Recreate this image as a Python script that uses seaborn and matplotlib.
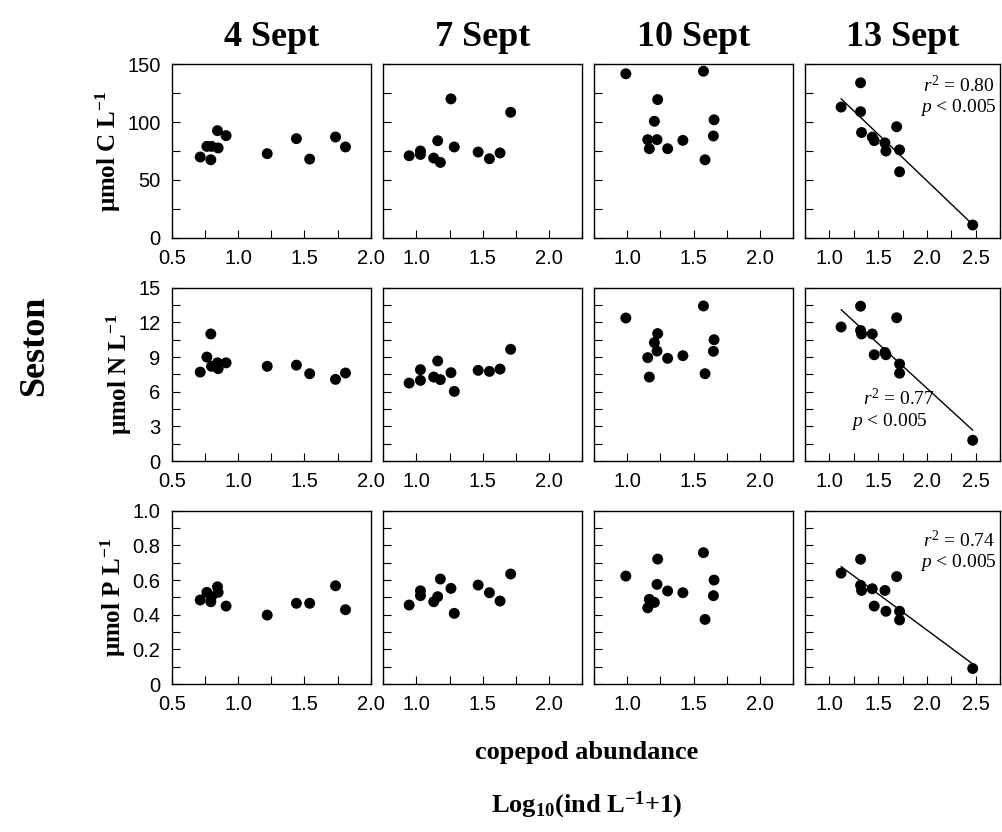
import numpy as np
import pandas as pd
import seaborn as sns
import matplotlib.pyplot as plt
from matplotlib.ticker import MultipleLocator, FuncFormatter

# copepod abundance, log10(ind/L + 1), one array per sampling date
dates = ['4 Sept', '7 Sept', '10 Sept', '13 Sept']
x_4sep = [0.715, 0.765, 0.795, 0.80, 0.845, 0.85, 0.91, 1.22, 1.44, 1.54, 1.735, 1.81]
x_7sep = [0.945, 1.03, 1.03, 1.13, 1.16, 1.18, 1.26, 1.285, 1.465, 1.55, 1.63, 1.71]
x_10sep = [0.99, 1.155, 1.167, 1.205, 1.225, 1.23, 1.305, 1.42, 1.575, 1.587, 1.65, 1.655]
x_13sep = [1.12, 1.32, 1.32, 1.33, 1.44, 1.46, 1.57, 1.58, 1.69, 1.72, 1.72, 2.47]

# seston carbon (umol C/L)
c_4sep = [69.8, 79.0, 67.4, 79.0, 92.6, 77.6, 88.3, 72.7, 85.7, 68.0, 87.1, 78.5]
c_7sep = [70.9, 72.0, 75.0, 68.9, 83.9, 65.1, 120.1, 78.5, 74.1, 68.3, 73.3, 108.5]
c_10sep = [141.8, 84.8, 77.0, 100.7, 84.8, 119.5, 77.0, 84.2, 144.0, 67.4, 88.0, 102.0]
c_13sep = [113, 134, 109, 91, 87, 84, 82, 75, 96, 76, 57, 11]

# seston nitrogen (umol N/L)
n_4sep = [7.7, 9.0, 11.0, 8.2, 8.5, 8.0, 8.5, 8.2, 8.3, 7.56, 7.07, 7.62]
n_7sep = [6.75, 7.91, 6.98, 7.27, 8.66, 7.05, 7.65, 6.03, 7.85, 7.76, 7.96, 9.67]
n_10sep = [12.38, 8.95, 7.27, 10.25, 9.52, 11.03, 8.89, 9.12, 13.42, 7.56, 9.5, 10.5]
n_13sep = [11.6, 13.4, 11.3, 11.0, 11.0, 9.2, 9.4, 9.2, 12.4, 8.4, 7.6, 1.8]

# seston phosphorus (umol P/L)
p_4sep = [0.485, 0.529, 0.475, 0.504, 0.561, 0.529, 0.45, 0.398, 0.466, 0.466, 0.567, 0.429]
p_7sep = [0.456, 0.538, 0.51, 0.475, 0.504, 0.606, 0.552, 0.408, 0.571, 0.527, 0.479, 0.635]
p_10sep = [0.623, 0.44, 0.489, 0.471, 0.575, 0.721, 0.537, 0.527, 0.758, 0.373, 0.51, 0.6]
p_13sep = [0.64, 0.72, 0.57, 0.54, 0.55, 0.45, 0.54, 0.42, 0.62, 0.42, 0.37, 0.09]

r2_text = ['0.80', '0.77', '0.74']

xs = [x_4sep, x_7sep, x_10sep, x_13sep]
rows = [[c_4sep, c_7sep, c_10sep, c_13sep],
        [n_4sep, n_7sep, n_10sep, n_13sep],
        [p_4sep, p_7sep, p_10sep, p_13sep]]

recs = []
for i, var in enumerate(['C', 'N', 'P']):
    for j, d in enumerate(dates):
        for xv, yv in zip(xs[j], rows[i][j]):
            recs.append({'var': var, 'date': d, 'abund': xv, 'conc': yv})
df = pd.DataFrame(recs)

sns.set_style('ticks')
plt.rcParams['font.family'] = ['Liberation Sans', 'DejaVu Sans']
plt.rcParams['text.color'] = 'black'
plt.rcParams['axes.labelcolor'] = 'black'
plt.rcParams['xtick.color'] = 'black'
plt.rcParams['ytick.color'] = 'black'
plt.rcParams['mathtext.fontset'] = 'custom'
plt.rcParams['mathtext.rm'] = 'Liberation Serif'
plt.rcParams['mathtext.it'] = 'Liberation Serif:italic'
plt.rcParams['mathtext.bf'] = 'Liberation Serif:bold'

fig = plt.figure(figsize=(10.02, 8.32), dpi=100)
W, H = 1002, 832
col_left = [171.7, 383.3, 594.0, 805.0]
col_w = [199, 199, 199, 195]
row_top = [64.3, 287.7, 510.7]
row_h = 173.4

xlims = [(0.5, 2.0), (0.75, 2.25), (0.75, 2.25), (0.75, 2.75)]
ylims = [(0, 150), (0, 15), (0, 1.0)]
ymaj = [50, 3, 0.2]
ymin = [25, 1.5, 0.1]
ylabels = [r'μmol C L$^{\mathbf{-1}}$', r'μmol N L$^{\mathbf{-1}}$', r'μmol P L$^{\mathbf{-1}}$']
serif = ['Liberation Serif', 'DejaVu Serif']
# stats label placement (axes fraction): r2 line, p line, x, alignment
stat_pos = [(0.875, 0.75, 0.985, 'right'), (0.36, 0.23, None, 'center'),
            (0.83, 0.70, 0.985, 'right')]

def yfmt_int(v, pos):
    return '%d' % round(v)

def yfmt_dec(v, pos):
    return '0' if abs(v) < 1e-9 else '%.1f' % v

for i, var in enumerate(['C', 'N', 'P']):
    for j, d in enumerate(dates):
        ax = fig.add_axes([col_left[j] / W, 1 - (row_top[i] + row_h) / H,
                           col_w[j] / W, row_h / H])
        sub = df[(df['var'] == var) & (df['date'] == d)]
        sns.scatterplot(data=sub, x='abund', y='conc', ax=ax, color='black',
                        s=62, edgecolor='none', zorder=3)
        if j == 3:
            sns.regplot(data=sub, x='abund', y='conc', ax=ax, scatter=False,
                        ci=None, color='black', line_kws={'lw': 1.0})
            yr, yp, xr, ha = stat_pos[i]
            if xr is None:
                ax.text(0.48, yr, r'$\mathit{r}^2$ = ' + r2_text[i], transform=ax.transAxes,
                        ha='center', va='center', fontsize=14, family=serif)
                ax.text(0.43, yp, r'$\mathit{p}$ < 0.005', transform=ax.transAxes,
                        ha='center', va='center', fontsize=14, family=serif)
            else:
                ax.text(xr - 0.01, yr, r'$\mathit{r}^2$ = ' + r2_text[i], transform=ax.transAxes,
                        ha=ha, va='center', fontsize=14, family=serif)
                ax.text(xr, yp, r'$\mathit{p}$ < 0.005', transform=ax.transAxes,
                        ha=ha, va='center', fontsize=14, family=serif)
        ax.set_xlim(*xlims[j])
        ax.set_ylim(*ylims[i])
        ax.xaxis.set_major_locator(MultipleLocator(0.5))
        ax.xaxis.set_minor_locator(MultipleLocator(0.25))
        ax.xaxis.set_major_formatter(FuncFormatter(lambda v, p: '%.1f' % v))
        ax.yaxis.set_major_locator(MultipleLocator(ymaj[i]))
        ax.yaxis.set_minor_locator(MultipleLocator(ymin[i]))
        ax.yaxis.set_major_formatter(FuncFormatter(yfmt_dec if i == 2 else yfmt_int))
        ax.tick_params(which='both', direction='in', length=6, width=0.8,
                       colors='black', labelsize=14.5, pad=8)
        for sp in ax.spines.values():
            sp.set_linewidth(1.0)
            sp.set_color('black')
        ax.set_xlabel('')
        if j == 0:
            ax.set_ylabel(ylabels[i], fontsize=18, fontweight='bold', family=serif,
                          labelpad=3)
        else:
            ax.set_ylabel('')
            ax.tick_params(axis='y', labelleft=False)
        if i == 0:
            ax.set_title(d, fontsize=26, fontweight='bold', family=serif, pad=13)

fig.text(0.035, 1 - 346 / H, 'Seston', rotation=90, ha='center', va='center',
         fontsize=26, fontweight='bold', family=serif)
fig.text(0.585, 1 - 753 / H, 'copepod abundance', ha='center', va='center',
         fontsize=19, fontweight='bold', family=serif)
fig.text(0.585, 1 - 805 / H, r'Log$_{\mathbf{10}}$(ind L$^{\mathbf{-1}}$+1)', ha='center',
         va='center', fontsize=19, fontweight='bold', family=serif)

fig.savefig('out.png', dpi=100)
